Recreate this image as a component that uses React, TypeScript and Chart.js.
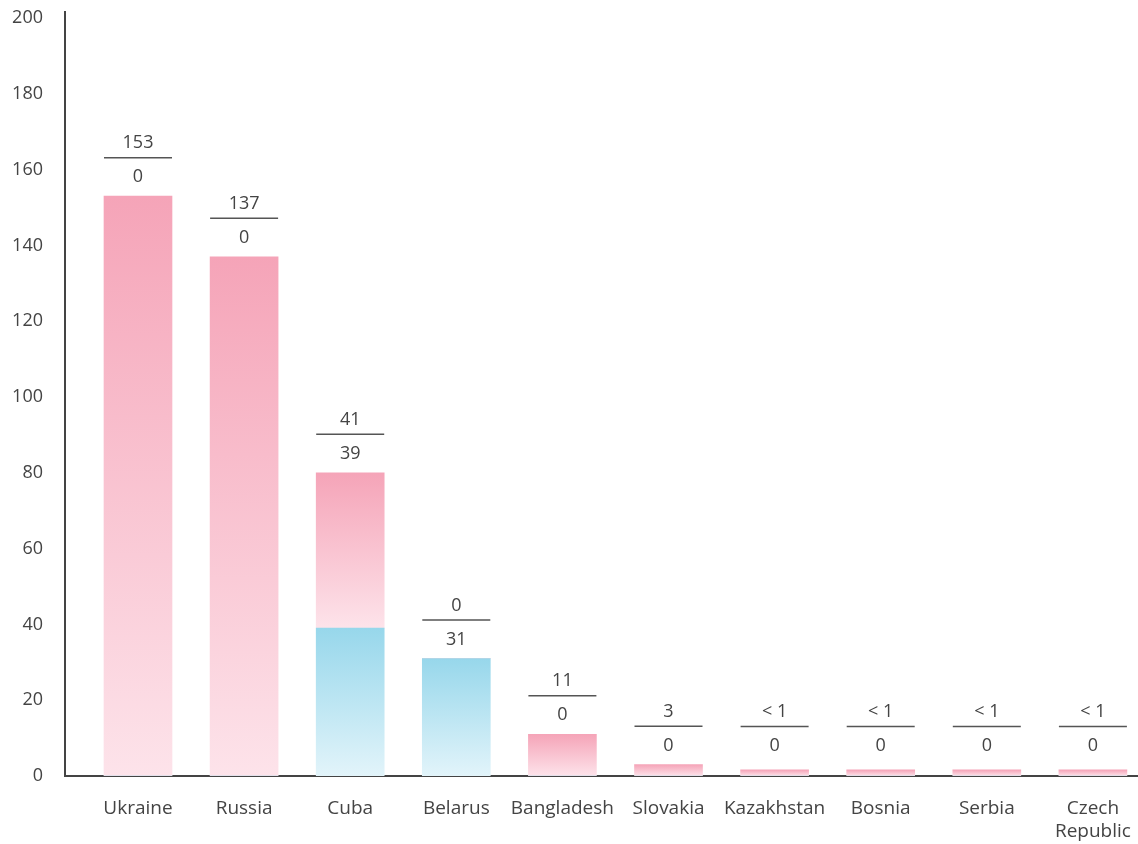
import React, { useEffect, useRef } from "react";
import { Chart, registerables } from "chart.js";

Chart.register(...registerables);

const categories: (string | string[])[] = [
  "Ukraine", "Russia", "Cuba", "Belarus", "Bangladesh",
  "Slovakia", "Kazakhstan", "Bosnia", "Serbia", ["Czech", "Republic"],
];
// pink (upper) series values; "< 1" bars drawn with an estimated small height
const pinkValues = [153, 137, 41, 0, 11, 3, 1.6, 1.6, 1.6, 1.6];
const pinkLabels = ["153", "137", "41", "0", "11", "3", "< 1", "< 1", "< 1", "< 1"];
// blue (lower) series values
const blueValues = [0, 0, 39, 31, 0, 0, 0, 0, 0, 0];
const blueLabels = ["0", "0", "39", "31", "0", "0", "0", "0", "0", "0"];
const yTicks = [0, 20, 40, 60, 80, 100, 120, 140, 160, 180, 200];

const FONT = "'Open Sans', 'Noto Sans', sans-serif";
const TEXT = "#444444";
const PINK_TOP = "#f5a4b8";
const PINK_BOT = "#fde3ea";
const BLUE_TOP = "#97d7eb";
const BLUE_BOT = "#e2f4fa";

function makeGradient(chart: any, dsIndex: number, i: number) {
  const y = chart.scales.y;
  const ctx = chart.ctx;
  if (!y || !chart.chartArea) return dsIndex === 0 ? BLUE_TOP : PINK_TOP;
  const base = dsIndex === 0 ? 0 : blueValues[i];
  const val = dsIndex === 0 ? blueValues[i] : pinkValues[i];
  const top = y.getPixelForValue(base + val);
  const bottom = y.getPixelForValue(base);
  if (!isFinite(top) || !isFinite(bottom) || top === bottom) return dsIndex === 0 ? BLUE_TOP : PINK_TOP;
  const g = ctx.createLinearGradient(0, top, 0, bottom);
  g.addColorStop(0, dsIndex === 0 ? BLUE_TOP : PINK_TOP);
  g.addColorStop(1, dsIndex === 0 ? BLUE_BOT : PINK_BOT);
  return g;
}

const labelPlugin = {
  id: "stackLabels",
  afterDatasetsDraw(chart: any) {
    const { ctx, scales } = chart;
    const x = scales.x;
    const y = scales.y;
    const zero = y.getPixelForValue(0);
    ctx.save();
    ctx.font = `18px ${FONT}`;
    ctx.fillStyle = TEXT;
    ctx.textAlign = "center";
    ctx.textBaseline = "middle";
    categories.forEach((_, i) => {
      const cx = x.getPixelForValue(i);
      let top = y.getPixelForValue(blueValues[i] + pinkValues[i]);
      top = Math.min(top, zero - 11);
      ctx.fillStyle = TEXT;
      ctx.fillText(blueLabels[i], cx, top - 19);
      ctx.fillText(pinkLabels[i], cx, top - 53);
      ctx.strokeStyle = "#555555";
      ctx.lineWidth = 1.5;
      ctx.beginPath();
      ctx.moveTo(cx - 34, top - 38.5);
      ctx.lineTo(cx + 34, top - 38.5);
      ctx.stroke();
    });
    ctx.restore();
  },
};

export default function App() {
  const ref = useRef<HTMLCanvasElement | null>(null);
  useEffect(() => {
    document.body.style.margin = "0";
    const canvas = ref.current!;
    const chart = new Chart(canvas, {
      type: "bar",
      data: {
        datasets: [
          {
            label: "blue",
            data: blueValues.map((v, i) => ({ x: i, y: v })),
            backgroundColor: (c: any) => makeGradient(c.chart, 0, c.dataIndex),
            barThickness: 68,
            borderWidth: 0,
          },
          {
            label: "pink",
            data: pinkValues.map((v, i) => ({ x: i, y: v })),
            backgroundColor: (c: any) => makeGradient(c.chart, 1, c.dataIndex),
            barThickness: 68,
            borderWidth: 0,
          },
        ],
      },
      options: {
        animation: false,
        responsive: false,
        layout: { padding: { top: 12, right: 0, left: 0, bottom: 0 } },
        plugins: { legend: { display: false }, tooltip: { enabled: false } },
        scales: {
          x: {
            type: "linear",
            stacked: true,
            offset: false,
            min: -0.688,
            max: 9.425,
            grid: { display: false, drawTicks: false, offset: false },
            border: { display: true, color: "#444444", width: 2 },
            afterFit: (s: any) => { s.height = 68; s.paddingLeft = 0; s.paddingRight = 0; },
            afterBuildTicks: (s: any) => {
              s.ticks = categories.map((_, i) => ({ value: i }));
            },
            ticks: {
              autoSkip: false,
              maxRotation: 0,
              minRotation: 0,
              padding: 21,
              color: TEXT,
              font: { family: FONT, size: 19 },
              callback: (v: any) => categories[Math.round(Number(v))] ?? "",
            },
          },
          y: {
            stacked: true,
            min: 0,
            max: 201.6,
            grid: { display: false, drawTicks: false },
            border: { display: true, color: "#444444", width: 2 },
            afterFit: (s: any) => { s.width = 65; s.paddingTop = 0; s.paddingBottom = 0; },
            afterBuildTicks: (s: any) => {
              s.ticks = yTicks.map((v) => ({ value: v }));
            },
            ticks: {
              padding: 22,
              color: TEXT,
              font: { family: FONT, size: 18 },
              callback: (v: any) => String(v),
            },
          },
        },
      },
      plugins: [labelPlugin],
    } as any);
    return () => chart.destroy();
  }, []);
  return (
    <div style={{ width: 1138, height: 844 }}>
      <canvas ref={ref} width={1138} height={844} style={{ display: "block" }} />
    </div>
  );
}
